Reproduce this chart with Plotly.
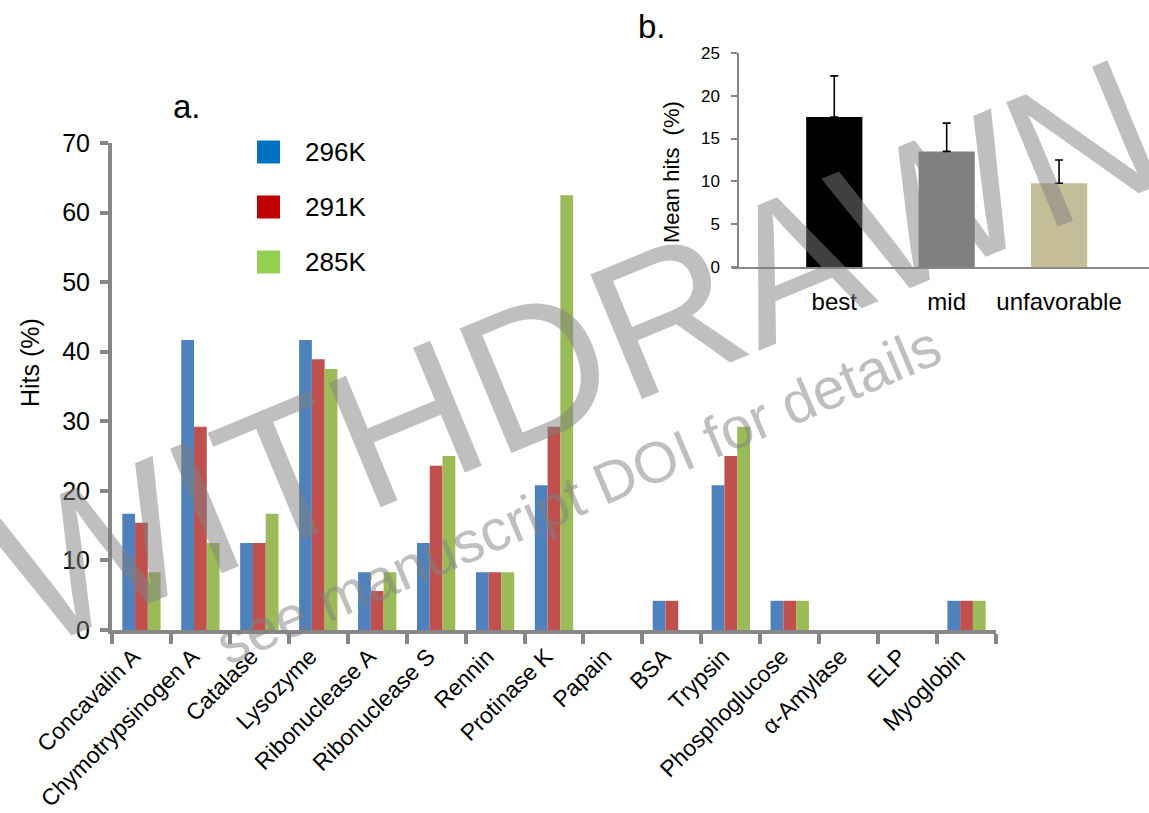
import plotly.graph_objects as go

# ---------------- data ----------------
proteins = ["Concavalin A", "Chymotrypsinogen A", "Catalase", "Lysozyme", "Ribonuclease A",
            "Ribonuclease S", "Rennin", "Protinase K", "Papain", "BSA", "Trypsin",
            "Phosphoglucose", "α-Amylase", "ELP", "Myoglobin"]
series_names = ["296K", "291K", "285K"]
hits_296K = [16.7, 41.7, 12.5, 41.7, 8.3, 12.5, 8.3, 20.8, 0, 4.2, 20.8, 4.2, 0, 0, 4.2]
hits_291K = [15.4, 29.2, 12.5, 38.9, 5.6, 23.6, 8.3, 29.2, 0, 4.2, 25.0, 4.2, 0, 0, 4.2]
hits_285K = [8.3, 12.5, 16.7, 37.5, 8.3, 25.0, 8.3, 62.5, 0, 0, 29.2, 4.2, 0, 0, 4.2]

conditions = ["best", "mid", "unfavorable"]
mean_hits = [17.5, 13.5, 9.8]
mean_err = [4.8, 3.3, 2.7]

# ---------------- style ----------------
W, H = 1149, 813
bar_colors = ["#4F81BD", "#C0504D", "#9BBB59"]
legend_colors = ["#0070C0", "#C00000", "#92D050"]
cond_colors = ["#000000", "#808080", "#C4BD97"]
axis_gray = "#878787"
FONT = "Liberation Sans, Arial, sans-serif"


def px_x(p):
    return p / W


def px_y(p):
    return 1 - p / H


fig = go.Figure()

for name, vals, col in zip(series_names, [hits_296K, hits_291K, hits_285K], bar_colors):
    fig.add_trace(go.Bar(x=proteins, y=vals, name=name, marker_color=col,
                         marker_line_width=0, showlegend=False,
                         xaxis="x", yaxis="y"))

fig.add_trace(go.Bar(x=conditions, y=mean_hits, marker_color=cond_colors,
                     marker_line_width=0, width=0.5, showlegend=False,
                     error_y=dict(type="data", array=mean_err,
                                  arrayminus=[0] * len(mean_err), symmetric=False,
                                  color="black", thickness=1.6, width=4),
                     xaxis="x2", yaxis="y2"))

# legend drawn manually (large squares)
shapes = []
annotations = []
for i, (name, col) in enumerate(zip(series_names, legend_colors)):
    yc = 152 + 55 * i
    shapes.append(dict(type="rect", xref="paper", yref="paper",
                       x0=px_x(257), x1=px_x(280), y0=px_y(yc - 11.5), y1=px_y(yc + 11.5),
                       fillcolor=col, line_width=0, layer="above"))
    annotations.append(dict(text=name, xref="paper", yref="paper", x=px_x(303), y=px_y(yc),
                            xanchor="left", yanchor="middle", showarrow=False,
                            font=dict(size=26, color="black", family=FONT)))

annotations += [
    dict(text="a.", xref="paper", yref="paper", x=px_x(171), y=px_y(106),
         xanchor="left", yanchor="middle", showarrow=False,
         font=dict(size=33, color="black", family=FONT)),
    dict(text="b.", xref="paper", yref="paper", x=px_x(636), y=px_y(27),
         xanchor="left", yanchor="middle", showarrow=False,
         font=dict(size=33, color="black", family=FONT)),
    dict(text="Hits (%)", xref="paper", yref="paper", x=px_x(30), y=px_y(363),
         xanchor="center", yanchor="middle", textangle=-90, showarrow=False,
         font=dict(size=25, color="black", family=FONT)),
    dict(text="Mean hits  (%)", xref="paper", yref="paper", x=px_x(671), y=px_y(172),
         xanchor="center", yanchor="middle", textangle=-90, showarrow=False,
         font=dict(size=22, color="black", family=FONT)),
    # watermark
    dict(text="WITHDRAWN", xref="paper", yref="paper", x=px_x(578), y=px_y(352),
         xanchor="center", yanchor="middle", textangle=-22.5, showarrow=False,
         font=dict(size=196, color="rgba(128,128,128,0.5)", family=FONT)),
    dict(text="see manuscript DOI for details", xref="paper", yref="paper",
         x=px_x(578), y=px_y(494), xanchor="center", yanchor="middle",
         textangle=-23, showarrow=False,
         font=dict(size=58, color="rgba(128,128,128,0.5)", family=FONT)),
]

fig.update_layout(
    width=W, height=H,
    margin=dict(l=0, r=0, t=0, b=0, autoexpand=False),
    paper_bgcolor="white", plot_bgcolor="rgba(0,0,0,0)",
    barmode="group", bargap=0.35, bargroupgap=0,
    showlegend=False,
    font=dict(family=FONT, color="black"),
    shapes=shapes, annotations=annotations,
    xaxis=dict(domain=[px_x(112), px_x(996)], anchor="y", type="category",
               automargin=False,
               showline=True, linecolor=axis_gray, linewidth=4,
               ticks="outside", tickson="boundaries", ticklen=10, tickwidth=4,
               tickcolor=axis_gray, tickangle=-45, showgrid=False,
               ticklabelshift=-8,
               tickfont=dict(size=23, color="black")),
    yaxis=dict(domain=[px_y(630), px_y(143)], anchor="x", range=[0, 70], dtick=10,
               automargin=False,
               showline=True, linecolor=axis_gray, linewidth=4,
               ticks="outside", ticklen=8, tickwidth=4, tickcolor=axis_gray,
               showgrid=False, zeroline=False, ticklabelstandoff=5,
               tickfont=dict(size=25, color="black")),
    xaxis2=dict(domain=[px_x(732), 1.0], anchor="y2", type="category",
                automargin=False,
                range=[-0.91, 2.8], showline=True, linecolor=axis_gray, linewidth=1.5,
                ticks="", showgrid=False, ticklabelstandoff=12,
                tickfont=dict(size=24, color="black")),
    yaxis2=dict(domain=[px_y(267.3), px_y(52.7)], anchor="free", position=px_x(738),
                automargin=False,
                range=[0, 25], dtick=5, showline=True, linecolor=axis_gray, linewidth=1.5,
                ticks="outside", ticklen=6, tickwidth=1.5, tickcolor=axis_gray,
                showgrid=False, zeroline=False, ticklabelstandoff=8,
                tickfont=dict(size=17, color="black")),
)

fig.write_html("out.html", config={"displayModeBar": False},
               post_script="document.body.style.margin='0';")
